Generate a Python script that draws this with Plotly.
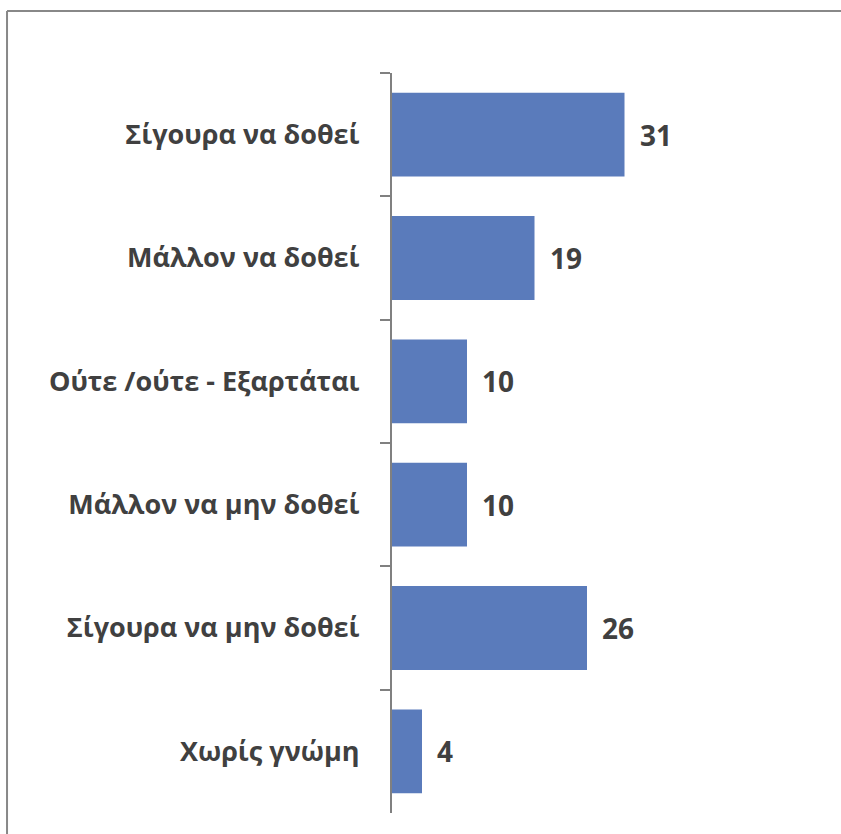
import plotly.graph_objects as go

categories = ["Σίγουρα να δοθεί", "Μάλλον να δοθεί", "Ούτε /ούτε - Εξαρτάται",
              "Μάλλον να μην δοθεί", "Σίγουρα να μην δοθεί", "Χωρίς γνώμη"]
values = [31, 19, 10, 10, 26, 4]

BAR_COLOR = "#5A7BBB"
TEXT_COLOR = "#404040"
FONT = "Open Sans"

fig = go.Figure()
fig.add_trace(go.Bar(
    x=values, y=categories, orientation="h",
    marker=dict(color=BAR_COLOR, line=dict(width=0)),
    hoverinfo="skip",
))

for v, c in zip(values, categories):
    fig.add_annotation(x=v, y=c, text=str(v), showarrow=False,
                       xanchor="left", xshift=13,
                       font=dict(family=FONT, size=28, color=TEXT_COLOR, weight="bold"))

# chart border (top and left edges visible)
fig.add_shape(type="line", xref="paper", yref="paper",
              x0=-1.0266, x1=1.25, y0=1.0838, y1=1.0838,
              line=dict(color="#888888", width=2))
fig.add_shape(type="line", xref="paper", yref="paper",
              x0=-1.0266, x1=-1.0266, y0=1.0838, y1=-0.05,
              line=dict(color="#888888", width=2))

fig.update_layout(
    width=841, height=834,
    margin=dict(l=392, r=74, t=73, b=21),
    paper_bgcolor="white", plot_bgcolor="white",
    bargap=0.32,
    showlegend=False,
    xaxis=dict(range=[0, 50], visible=False, showgrid=False, zeroline=False),
    yaxis=dict(
        type="category", autorange="reversed",
        showline=True, linecolor="#808080", linewidth=2,
        ticks="outside", ticklen=10, tickcolor="#808080", tickwidth=2,
        tickson="boundaries", ticklabelstandoff=25,
        showgrid=False, zeroline=False,
        tickfont=dict(family=FONT, size=27, color=TEXT_COLOR, weight="bold"),
    ),
)

fig.write_html("out.html", config={"displayModeBar": False},
               post_script="document.body.style.margin='0';document.body.style.overflow='hidden';")
